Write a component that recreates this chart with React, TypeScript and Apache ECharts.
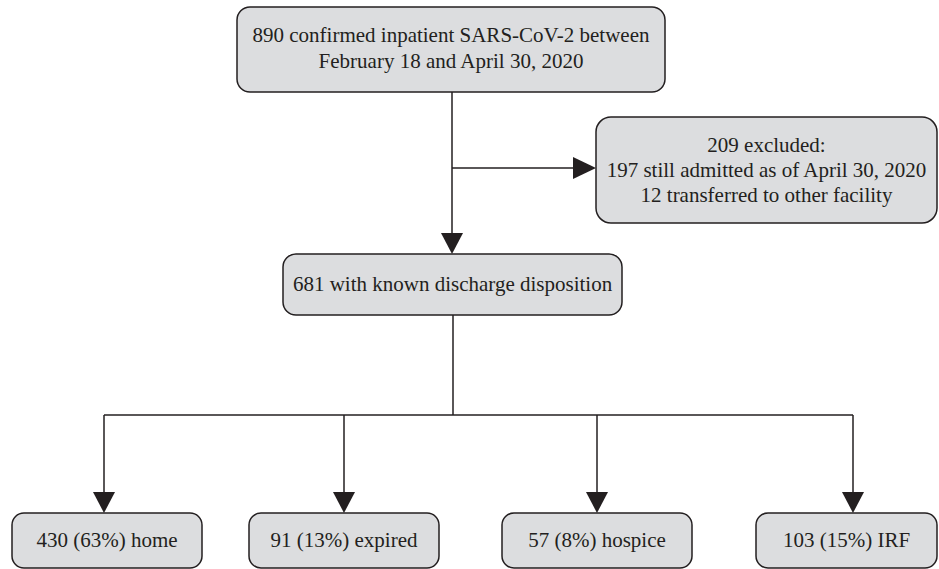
import React, { useEffect, useRef } from "react";
import * as echarts from "echarts";

// ---- content ----
const topLines: string[] = ["890 confirmed inpatient SARS-CoV-2 between", "February 18 and April 30, 2020"];
const excludedLines: string[] = ["209 excluded:", "197 still admitted as of April 30, 2020", "12 transferred to other facility"];
const middleLines: string[] = ["681 with known discharge disposition"];
const outcomeLabels: string[] = ["home", "expired", "hospice", "IRF"];
const outcomeCounts: number[] = [430, 91, 57, 103];
const outcomePercents: number[] = [63, 13, 8, 15];

// ---- layout (pixels) ----
const FONT = "'Liberation Serif', 'DejaVu Serif', serif";
const TEXT_COLOR = "#231f20";
const LINE_COLOR = "#231f20";
const FILL = "#dcdddf";

const topBox = { x: 237, y: 7, w: 428, h: 85, r: 13, lineYs: [35, 61], size: 21 };
const exclBox = { x: 596, y: 117, w: 341, h: 106, r: 15, lineYs: [145, 170, 195], size: 21 };
const midBox = { x: 283, y: 254, w: 339, h: 61, r: 13, lineYs: [284], size: 21 };
const bottomBoxXs = [12, 249, 502, 756];
const bottomBoxWs = [190, 190, 190, 181];
const bottomArrowXs = [104, 344, 597, 853];
const bottomBox = { y: 513, h: 55, r: 12, textY: 540, size: 21 };
const trunkX = 453;
const branchY = 415;
const exclLineY = 168;

function box(b: { x: number; y: number; w: number; h: number; r: number }) {
  return {
    type: "rect",
    shape: { x: b.x, y: b.y, width: b.w, height: b.h, r: b.r },
    style: { fill: FILL, stroke: LINE_COLOR, lineWidth: 1.5 },
  };
}

function text(t: string, x: number, y: number, size: number) {
  return {
    type: "text",
    x,
    y,
    style: {
      text: t,
      fill: TEXT_COLOR,
      fontSize: size,
      fontFamily: FONT,
      align: "center",
      verticalAlign: "middle",
    },
  };
}

function line(x1: number, y1: number, x2: number, y2: number) {
  return {
    type: "line",
    shape: { x1, y1, x2, y2 },
    style: { stroke: LINE_COLOR, lineWidth: 1.5 },
  };
}

function arrowDown(x: number, tipY: number) {
  return {
    type: "polygon",
    shape: { points: [[x - 11, tipY - 21], [x + 11, tipY - 21], [x, tipY]] },
    style: { fill: LINE_COLOR },
  };
}

function arrowRight(tipX: number, y: number) {
  return {
    type: "polygon",
    shape: { points: [[tipX - 23, y - 11], [tipX - 23, y + 11], [tipX, y]] },
    style: { fill: LINE_COLOR },
  };
}

export default function App() {
  const ref = useRef<HTMLDivElement>(null);
  useEffect(() => {
    document.body.style.margin = "0";
    if (!ref.current) return;
    const chart = echarts.init(ref.current, undefined, { renderer: "svg" });
    const els: any[] = [];

    // connectors
    els.push(line(trunkX - 1, topBox.y + topBox.h, trunkX - 1, midBox.y - 20));
    els.push(arrowDown(trunkX - 1, midBox.y));
    els.push(line(trunkX - 1, exclLineY, exclBox.x - 20, exclLineY));
    els.push(arrowRight(exclBox.x, exclLineY));
    els.push(line(trunkX, midBox.y + midBox.h, trunkX, branchY));
    els.push(line(bottomArrowXs[0], branchY, bottomArrowXs[bottomArrowXs.length - 1], branchY));
    bottomArrowXs.forEach((ax) => {
      els.push(line(ax, branchY, ax, bottomBox.y - 18));
      els.push(arrowDown(ax, bottomBox.y));
    });

    // boxes
    els.push(box(topBox));
    topLines.forEach((t, i) => els.push(text(t, topBox.x + topBox.w / 2, topBox.lineYs[i], topBox.size)));
    els.push(box(exclBox));
    excludedLines.forEach((t, i) => els.push(text(t, exclBox.x + exclBox.w / 2, exclBox.lineYs[i], exclBox.size)));
    els.push(box(midBox));
    middleLines.forEach((t, i) => els.push(text(t, midBox.x + midBox.w / 2, midBox.lineYs[i], midBox.size)));

    outcomeLabels.forEach((lab, i) => {
      const bx = { x: bottomBoxXs[i], y: bottomBox.y, w: bottomBoxWs[i], h: bottomBox.h, r: bottomBox.r };
      els.push(box(bx));
      const t = `${outcomeCounts[i]} (${outcomePercents[i]}%) ${lab}`;
      els.push(text(t, bx.x + bx.w / 2, bottomBox.textY, bottomBox.size));
    });

    chart.setOption({
      animation: false,
      backgroundColor: "#ffffff",
      graphic: { elements: els },
    });
    return () => chart.dispose();
  }, []);
  return <div ref={ref} style={{ position: "fixed", left: 0, top: 0, width: 939, height: 569 }} />;
}
